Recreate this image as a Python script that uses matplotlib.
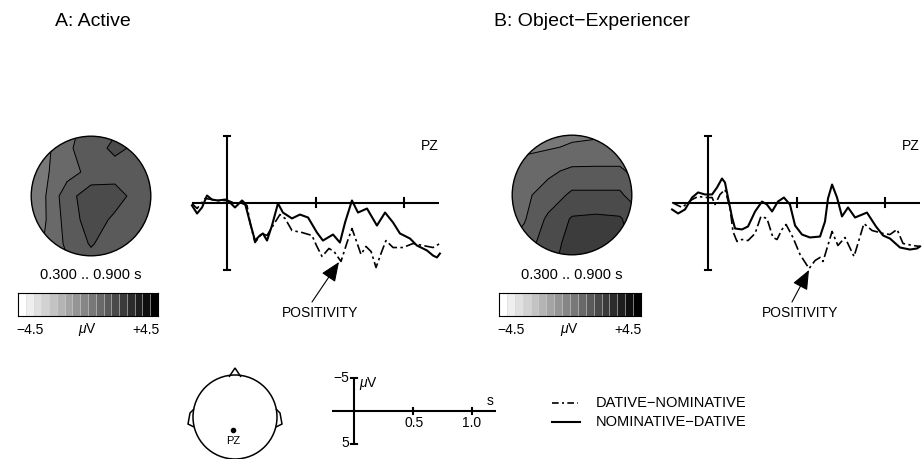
import numpy as np
import matplotlib
matplotlib.use('Agg')
import matplotlib.pyplot as plt
from matplotlib.colors import ListedColormap, BoundaryNorm
from matplotlib.patches import Circle, Polygon

plt.rcParams['font.family'] = ['Liberation Sans', 'DejaVu Sans']
plt.rcParams['mathtext.fontset'] = 'custom'
plt.rcParams['mathtext.rm'] = 'Liberation Sans'
plt.rcParams['mathtext.it'] = 'Liberation Sans:italic'

# ---- data (time in s, amplitude in microvolt, negative up) ----
a_solid_t = [-0.198, -0.169, -0.141, -0.113, -0.085, -0.051, -0.011, 0.017, 0.045, 0.085,
             0.102, 0.130, 0.158, 0.186, 0.203, 0.226, 0.254, 0.288, 0.316, 0.367,
             0.412, 0.458, 0.508, 0.542, 0.599, 0.638, 0.667, 0.706, 0.740, 0.791,
             0.847, 0.893, 0.938, 0.977, 1.034, 1.073, 1.130, 1.164, 1.186, 1.203]
a_solid_v = [0.22, 0.82, 0.37, -0.52, -0.22, -0.15, -0.22, 0.0, 0.37, -0.15,
             0.07, 1.49, 2.84, 2.46, 2.31, 2.84, 1.72, 0.07, 0.75, 1.19,
             0.90, 1.12, 2.24, 2.84, 2.39, 2.99, 1.49, -0.15, 0.75, 0.45,
             1.72, 0.75, 1.49, 2.31, 2.69, 3.21, 3.58, 3.96, 4.10, 3.81]
a_dash_t = [-0.198, -0.169, -0.124, -0.051, 0.006, 0.045, 0.073, 0.113, 0.130, 0.158,
            0.198, 0.226, 0.260, 0.299, 0.328, 0.367, 0.424, 0.480, 0.508, 0.537,
            0.576, 0.605, 0.644, 0.678, 0.706, 0.734, 0.757, 0.785, 0.814, 0.842,
            0.870, 0.898, 0.938, 0.994, 1.051, 1.107, 1.164, 1.203]
a_dash_v = [0.07, 0.45, -0.30, -0.15, -0.15, 0.07, 0.0, 0.22, 1.49, 2.99,
            2.31, 2.46, 1.72, 0.90, 1.19, 2.09, 2.24, 2.46, 3.28, 4.03,
            3.43, 3.66, 4.40, 2.99, 1.94, 2.99, 3.88, 3.28, 3.66, 4.85,
            3.81, 2.84, 3.36, 3.36, 3.06, 3.21, 3.36, 3.06]

b_solid_t = [-0.203, -0.169, -0.130, -0.090, -0.056, -0.017, 0.023, 0.051, 0.079, 0.096,
             0.113, 0.136, 0.153, 0.192, 0.226, 0.266, 0.305, 0.333, 0.362, 0.395,
             0.429, 0.463, 0.492, 0.531, 0.576, 0.633, 0.661, 0.678, 0.701, 0.729,
             0.757, 0.791, 0.831, 0.898, 0.949, 0.989, 1.028, 1.085, 1.141, 1.181, 1.198]
b_solid_v = [0.52, 0.82, 0.52, -0.37, -0.75, -0.60, -0.60, -1.12, -1.79, -1.49,
             -0.37, 1.12, 1.94, 2.01, 1.79, 0.67, -0.07, 0.15, 0.67, -0.07,
             -0.37, 0.15, 1.72, 2.39, 2.61, 2.54, 1.42, -0.30, -1.34, -0.37,
             1.04, 0.37, 1.12, 0.75, 1.79, 2.46, 2.69, 3.36, 3.51, 3.43, 3.28]
b_dash_t = [-0.203, -0.147, -0.090, -0.056, -0.006, 0.023, 0.040, 0.068, 0.096, 0.124,
            0.141, 0.164, 0.192, 0.226, 0.266, 0.299, 0.333, 0.367, 0.390, 0.418,
            0.441, 0.480, 0.520, 0.571, 0.605, 0.633, 0.650, 0.701, 0.734, 0.774,
            0.825, 0.881, 0.927, 0.989, 1.028, 1.068, 1.102, 1.158, 1.198]
b_dash_v = [0.0, 0.37, -0.22, -0.45, -0.37, -0.37, 0.15, -0.60, -0.97, 0.37,
            2.16, 2.91, 2.76, 2.84, 2.31, 1.04, 1.19, 2.61, 2.76, 2.01,
            1.64, 2.61, 3.88, 4.93, 4.33, 4.10, 4.40, 2.16, 3.21, 2.61,
            4.03, 1.57, 2.09, 2.31, 2.39, 2.01, 3.06, 3.21, 3.28]

# topographic maps: 7x7 grid (rows front->back, cols left->right), microvolt
grid_pos = [-1.2, -0.8, -0.4, 0.0, 0.4, 0.8, 1.2]
topo_a = [[0.2, 0.3, 0.8, 1.2, 1.4, 1.3, 1.2],
          [-0.1, 0.3, 0.9, 1.3, 1.6, 1.4, 1.2],
          [0.2, 0.4, 0.8, 1.15, 1.3, 1.25, 1.2],
          [0.2, 0.4, 1.3, 1.8, 1.7, 1.3, 1.2],
          [0.2, 0.4, 1.2, 1.75, 1.4, 1.1, 0.8],
          [0.2, 0.5, 1.1, 1.55, 1.2, 0.9, 0.7],
          [0.3, 0.6, 0.9, 1.2, 1.1, 1.0, 0.9]]
topo_b = [[0.2, 0.2, 0.2, 0.3, 0.3, 0.3, 0.3],
          [0.3, 0.4, 0.45, 0.55, 0.6, 0.6, 0.5],
          [0.4, 0.7, 0.9, 1.1, 1.1, 1.1, 0.7],
          [0.5, 0.9, 1.2, 1.6, 1.6, 1.6, 1.0],
          [0.6, 0.95, 1.6, 2.05, 2.1, 2.05, 1.6],
          [0.9, 1.2, 1.8, 2.15, 2.2, 2.1, 1.8],
          [1.2, 1.4, 1.9, 2.2, 2.2, 2.1, 2.0]]
levels = np.arange(-4.5, 4.51, 0.5)
grays = [str(round(1 - i / 17, 3)) for i in range(18)]

W, H = 923, 459
fig = plt.figure(figsize=(W / 100, H / 100), dpi=100)
bg = fig.add_axes([0, 0, 1, 1])
bg.set_xlim(0, W)
bg.set_ylim(H, 0)
bg.axis('off')

cmap = ListedColormap(grays)
norm = BoundaryNorm(levels, cmap.N)


def px_axes(x0, y0, x1, y1):
    ax = fig.add_axes([x0 / W, 1 - y1 / H, (x1 - x0) / W, (y1 - y0) / H])
    ax.axis('off')
    ax.patch.set_alpha(0)
    return ax


def erp_axes(ox, oy, sx, sy, box):
    x0, y0, x1, y1 = box
    ax = px_axes(x0, y0, x1, y1)
    ax.set_xlim((x0 - ox) / sx, (x1 - ox) / sx)
    ax.set_ylim((y1 - oy) / sy, (y0 - oy) / sy)
    return ax


def draw_frame(ax, t0, t1, lw=1.5, cap=0.018, tick=0.3):
    ax.plot([t0, t1], [0, 0], color='k', lw=lw, solid_capstyle='butt')
    ax.plot([0, 0], [-5, 5], color='k', lw=lw, solid_capstyle='butt')
    for v in (-5, 5):
        ax.plot([-cap, cap], [v, v], color='k', lw=lw)
    for t in (0.5, 1.0):
        ax.plot([t, t], [-tick, tick], color='k', lw=lw)


def topo(box, vals):
    ax = px_axes(*box)
    ax.set_xlim(-1.02, 1.02)
    ax.set_ylim(-1.02, 1.02)
    z = np.array(vals)[::-1]
    circ = Circle((0, 0), 1, transform=ax.transData)
    cf = ax.contourf(grid_pos, grid_pos, z, levels=levels, cmap=cmap, norm=norm)
    cf.set_clip_path(circ)
    cl = ax.contour(grid_pos, grid_pos, z, levels=levels, colors='k', linewidths=0.7)
    cl.set_clip_path(circ)
    ax.add_patch(Circle((0, 0), 1, fill=False, lw=1.0, color='k'))


def colorbar(box):
    ax = px_axes(*box)
    ax.axis('on')
    ax.imshow(np.arange(18)[None, :], cmap=cmap, aspect='auto',
              extent=[-4.5, 4.5, 0, 1], interpolation='nearest')
    for x in levels[1:-1]:
        ax.axvline(x, color='0.85', lw=0.4)
    ax.set_xticks([])
    ax.set_yticks([])
    for s in ax.spines.values():
        s.set_linewidth(0.8)


def erp_panel(ox, box, st, sv, dt, dv):
    ax = erp_axes(ox, 202.5, 177, 13.4, box)
    draw_frame(ax, -0.2, 1.2)
    ax.plot(dt, dv, color='k', lw=1.2, dashes=(6, 2, 1.5, 2), dash_joinstyle='round')
    ax.plot(st, sv, color='k', lw=1.5, solid_joinstyle='round')


# titles
bg.text(55, 22, 'A: Active', fontsize=14, va='center', ha='left')
bg.text(494, 22, 'B: Object\u2212Experiencer', fontsize=14, va='center', ha='left')

# panel A
topo((30, 135, 152, 257), topo_a)
bg.text(91, 275, '0.300 .. 0.900 s', fontsize=10.5, ha='center', va='center')
colorbar((18, 293, 158, 316))
bg.text(30, 330, '\u22124.5', fontsize=10, ha='center', va='center')
bg.text(88, 330, r'$\mu$V', fontsize=10, ha='center', va='center')
bg.text(146, 330, '+4.5', fontsize=10, ha='center', va='center')
erp_panel(227, (185, 128, 450, 280), a_solid_t, a_solid_v, a_dash_t, a_dash_v)
bg.text(430, 146, 'PZ', fontsize=10, ha='center', va='center')
bg.text(320, 313, 'POSITIVITY', fontsize=10, ha='center', va='center')
bg.annotate('', xy=(339, 262), xytext=(312, 302),
            arrowprops=dict(arrowstyle='-|>,head_length=0.6,head_width=0.25',
                            color='k', lw=0.8, mutation_scale=20, shrinkA=0, shrinkB=0))

# panel B
topo((511, 134, 633, 256), topo_b)
bg.text(572, 275, '0.300 .. 0.900 s', fontsize=10.5, ha='center', va='center')
colorbar((499, 293, 641, 316))
bg.text(511, 330, '\u22124.5', fontsize=10, ha='center', va='center')
bg.text(570, 330, r'$\mu$V', fontsize=10, ha='center', va='center')
bg.text(628, 330, '+4.5', fontsize=10, ha='center', va='center')
erp_panel(708, (665, 128, 923, 280), b_solid_t, b_solid_v, b_dash_t, b_dash_v)
bg.text(911, 146, 'PZ', fontsize=10, ha='center', va='center')
bg.text(800, 313, 'POSITIVITY', fontsize=10, ha='center', va='center')
bg.annotate('', xy=(809, 270), xytext=(792, 302),
            arrowprops=dict(arrowstyle='-|>,head_length=0.6,head_width=0.25',
                            color='k', lw=0.8, mutation_scale=20, shrinkA=0, shrinkB=0))

# head schematic
bg.add_patch(Circle((235, 417), 42, fill=False, lw=1.1, color='k'))
bg.add_patch(Polygon([(229, 377), (235, 368), (241, 377)], closed=False, fill=False, lw=1.1))
bg.add_patch(Polygon([(194, 409), (190, 413), (188, 424), (194, 427)], closed=False, fill=False, lw=1.1))
bg.add_patch(Polygon([(276, 409), (280, 413), (282, 424), (276, 427)], closed=False, fill=False, lw=1.1))
bg.plot([233], [430], 'ko', ms=3)
bg.text(233, 441, 'PZ', fontsize=8, ha='center', va='center')

# scale
sc = erp_axes(354, 411, 118, 6.6, (325, 365, 505, 452))
draw_frame(sc, -0.19, 1.2, lw=1.5, cap=0.025, tick=0.4)
bg.text(349, 378, '\u22125', fontsize=10, ha='right', va='center')
bg.text(349, 443, '5', fontsize=10, ha='right', va='center')
bg.text(359, 384, r'$\mu$V', fontsize=10, ha='left', va='center')
bg.text(490, 401, 's', fontsize=10, ha='center', va='center')
bg.text(414, 423, '0.5', fontsize=10, ha='center', va='center')
bg.text(472, 423, '1.0', fontsize=10, ha='center', va='center')

# legend
bg.plot([552, 578], [403, 403], color='k', lw=1.2, dashes=(4, 2, 1.2, 2))
bg.plot([552, 580], [422, 422], color='k', lw=1.5)
bg.text(596, 403, 'DATIVE\u2212NOMINATIVE', fontsize=10.5, ha='left', va='center')
bg.text(596, 422, 'NOMINATIVE\u2212DATIVE', fontsize=10.5, ha='left', va='center')

fig.savefig('out.png', dpi=100)
